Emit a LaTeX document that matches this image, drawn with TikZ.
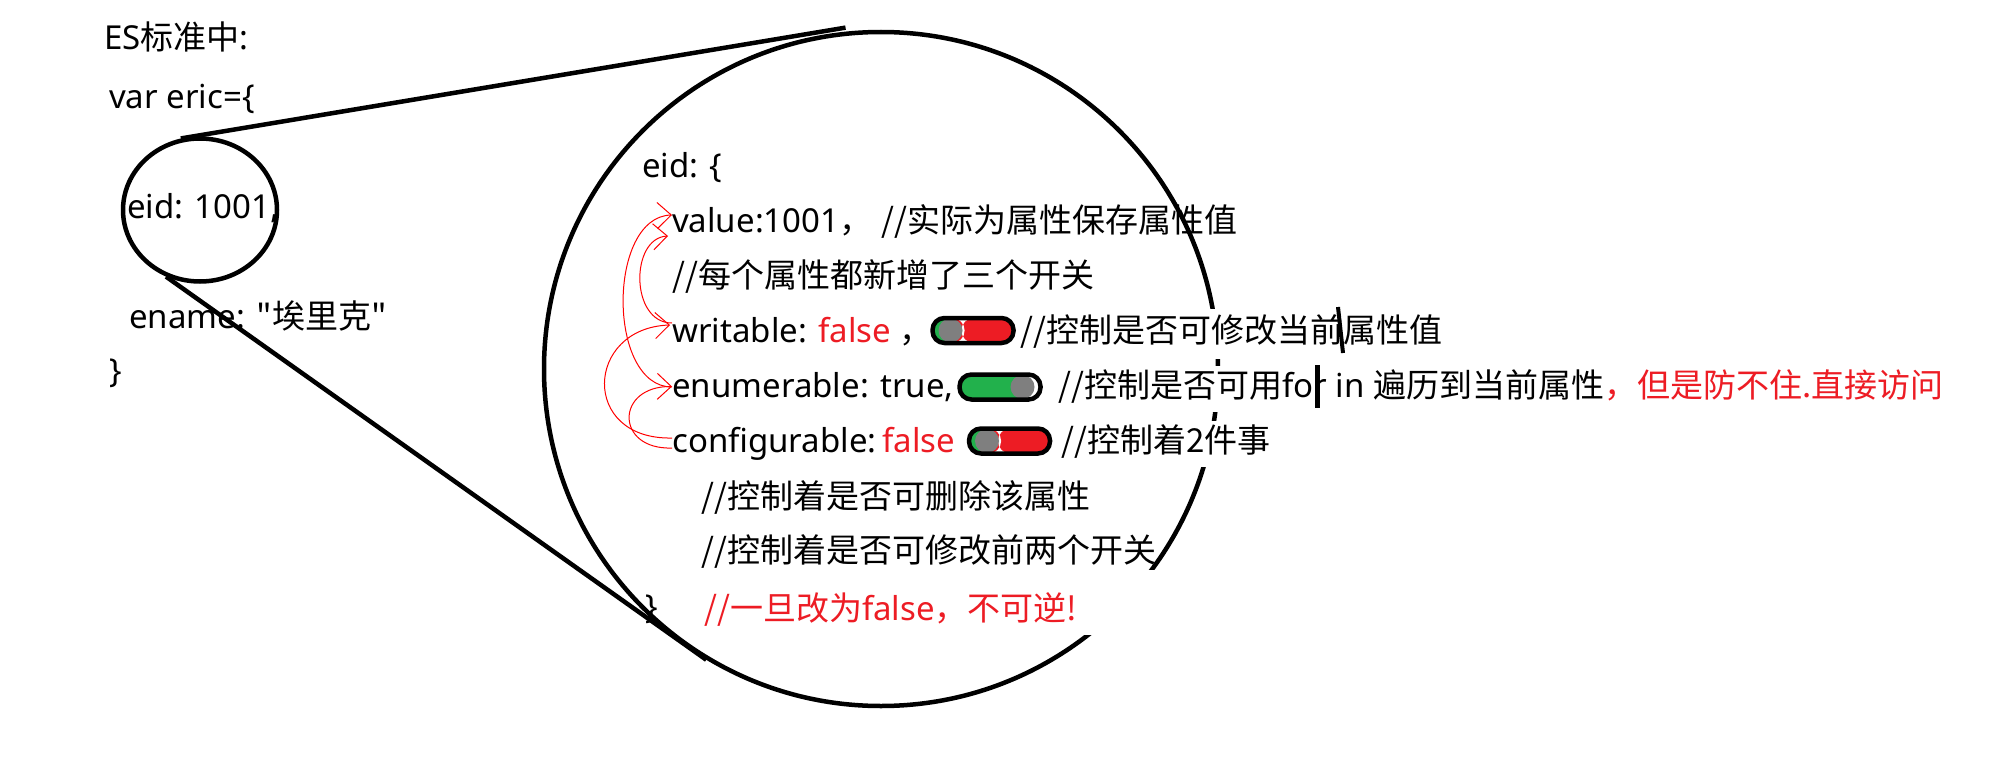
\documentclass[tikz,border=0pt]{standalone}
\usepackage{fontspec}
\setmainfont{Noto Sans}
\newfontfamily\zh{Noto Sans CJK SC}
\usetikzlibrary{shapes.geometric,arrows.meta}

\definecolor{swred}{HTML}{ED1C24}
\definecolor{swgreen}{HTML}{22B14C}
\definecolor{knobgray}{HTML}{7F7F7F}
\definecolor{notered}{HTML}{ED1C24}
\definecolor{arrowred}{HTML}{FF0000}

\begin{document}
\begin{tikzpicture}[
    x=1pt, y=-1pt,
    font=\fontsize{33}{40}\selectfont,
    txt/.style={anchor=base west, inner sep=0pt, text height=24pt, text depth=7pt},
    cover/.style={txt, fill=white, minimum height=46pt},
    warnbox/.style={anchor=base west, inner sep=0pt, fill=white, text height=50pt, text depth=15pt, text width=462pt, align=left, text=notered},
    lenssmall/.style={ellipse, draw, line width=4.5pt, minimum width=154pt, minimum height=143pt, inner sep=0pt},
    lensbig/.style={circle, draw, line width=4.5pt, minimum size=674pt, inner sep=0pt},
    zoomline/.style={line width=4.5pt},
    switchbox/.style={draw, line width=4.5pt, rounded corners=12pt, minimum width=81pt, minimum height=25pt, inner sep=0pt},
    offswitch/.style={switchbox, fill=swred, path picture={
        \fill[swgreen] (path picture bounding box.south west) rectangle ([xshift=18pt]path picture bounding box.north west);
        \fill[white] ([xshift=29pt]path picture bounding box.south west) rectangle ([xshift=32pt]path picture bounding box.north west);
        \fill[knobgray] ([xshift=18pt]path picture bounding box.west) circle (12pt);}},
    onswitch/.style={switchbox, fill=swgreen, path picture={
        \fill[white] ([xshift=-18pt]path picture bounding box.south east) rectangle (path picture bounding box.north east);
        \fill[knobgray] ([xshift=-18pt]path picture bounding box.east) circle (12pt);}},
    redarrow/.style={draw=arrowred, line width=1pt, -{Straight Barb[length=14pt, width=26pt]}}
]
    \useasboundingbox (0,0) rectangle (1990,760);

    % --- 左侧：对象 eric ---
    \node[txt] (title) at (104,50) {ES{\zh 标准中}:};
    \node[txt] (varline) at (109,108) {var eric=\{};
    \node[txt] (eidsmall) at (127,218) {eid: 1001,};
    \node[txt] (ename) at (129,328) {ename: {\zh "埃里克"}};
    \node[txt] (objclose) at (109,382) {\}};
    \node[lenssmall] (zoomsrc) at (200,210) {};

    % --- 放大圆 ---
    \node[lensbig] (lens) at (881,369) {};

    \node[txt] (eidopen) at (642,177) {eid: \{};
    \node[txt] (value) at (672,232) {value:1001{\zh ，}};
    \node[txt] (valuenote) at (881,232) {{\zh //实际为属性保存属性值}};
    \node[txt] (note3) at (672,287) {{\zh //每个属性都新增了三个开关}};

    \node[txt] (writable) at (672,342) {writable: \textcolor{notered}{false} {\zh ，}};
    \node[offswitch] (sw1) at (973,330.5) {};
    \node[cover, minimum height=50pt] (writnote) at (1020,342) {{\zh //控制是否可修改当前属性值}};

    \node[txt] (enum) at (672,397) {enumerable: true,};
    \node[onswitch] (sw2) at (1000,387) {};
    \node[cover] (enumnote) at (1058,397) {{\zh //控制是否可用}for in {\zh 遍历到当前属性}\textcolor{notered}{\zh ，但是防不住.直接访问}};

    \node[txt] (config) at (672,452) {configurable:\,\textcolor{notered}{false}};
    \node[offswitch] (sw3) at (1009.5,441) {};
    \node[cover] (confnote) at (1061,452) {{\zh //控制着2件事}};

    \node[txt] (confdel) at (701,508) {{\zh //控制着是否可删除该属性}};
    \node[txt] (confmod) at (701,562) {{\zh //控制着是否可修改前两个开关}};
    \node[txt] (eidclose) at (645,618) {\}};
    \node[warnbox] (warn) at (704,620) {{\zh //一旦改为}false{\zh ，不可逆!}};

    % --- 红色箭头 ---
    \draw[redarrow] ([yshift=1.5pt]enum.west) .. controls (607,387) and (607,217) .. ([yshift=8.5pt]value.west);
    \draw[redarrow] ([yshift=10.5pt]writable.west) .. controls (630,323) and (630,238) .. ([xshift=-4pt,yshift=-12.5pt]value.west);
    \draw[redarrow] ([yshift=5.5pt]config.west) .. controls (580,440) and (585,328) .. ([xshift=-2pt,yshift=8.5pt]writable.west);
    \draw[redarrow] ([yshift=-4.5pt]config.west) .. controls (615,450) and (615,386) .. ([yshift=2pt]enum.west);

    % --- 放大连线 ---
    \draw[zoomline] (zoomsrc.105) -- ([yshift=4pt]lens.96);
    \draw[zoomline] (zoomsrc.243) -- (lens.239);

    \draw[line width=4pt] (1338,307) -- (1343,353);
    \draw[line width=5pt] (1317,365) -- (1317,408);

\end{tikzpicture}
\end{document}
